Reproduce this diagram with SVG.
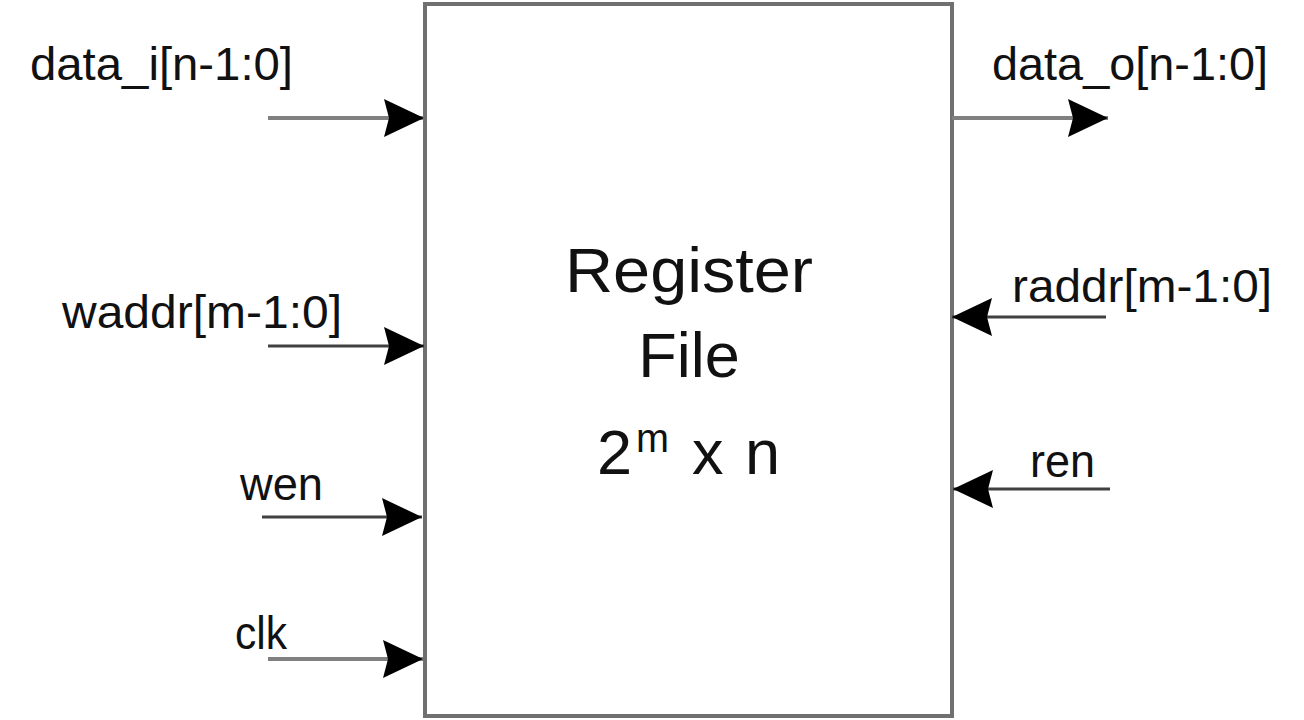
<svg xmlns="http://www.w3.org/2000/svg" width="1304" height="720" viewBox="0 0 1304 720">
  <style>
    .lbl { font-family: "Liberation Sans", Arial, sans-serif; font-size: 46px; fill: #111; }
    .ctr { font-family: "Liberation Sans", Arial, sans-serif; font-size: 63px; fill: #111; }
    .box { fill: #ffffff; stroke: #707070; stroke-width: 4; }
    .wg { stroke: #808080; stroke-width: 4; fill: none; }
    .wd { stroke: #404040; stroke-width: 3; fill: none; }
  </style>
  <defs>
    <marker id="ah" viewBox="0 0 40 38" refX="40" refY="19" markerWidth="40" markerHeight="38" markerUnits="userSpaceOnUse" orient="auto">
      <path d="M0,0 L40,19 L0,38 L5,19 Z" fill="#000"/>
    </marker>
  </defs>
  <rect width="1304" height="720" fill="#ffffff"/>

  <g id="regfile">
    <rect class="box" x="425" y="4" width="527" height="712"/>
    <text class="ctr" x="565" y="292" textLength="248" lengthAdjust="spacingAndGlyphs">Register</text>
    <text class="ctr" x="689" y="377" text-anchor="middle">File</text>
    <text class="ctr" y="474"><tspan x="597">2</tspan><tspan x="636" y="452" font-size="40" textLength="33" lengthAdjust="spacingAndGlyphs">m</tspan><tspan x="692" y="474">x</tspan><tspan x="745" y="474">n</tspan></text>
  </g>

  <g id="connectors">
    <line id="c-data-i" class="wg" x1="268" y1="118" x2="424" y2="118" marker-end="url(#ah)"/>
    <line id="c-waddr" class="wd" x1="268" y1="346" x2="424" y2="346" marker-end="url(#ah)"/>
    <line id="c-wen" class="wd" x1="262" y1="517" x2="422" y2="517" marker-end="url(#ah)"/>
    <line id="c-clk" class="wg" x1="268" y1="659" x2="423" y2="659" marker-end="url(#ah)"/>
    <line id="c-data-o" class="wg" x1="952" y1="118" x2="1108" y2="118" marker-end="url(#ah)"/>
    <line id="c-raddr" class="wd" x1="1106" y1="317" x2="952" y2="317" marker-end="url(#ah)"/>
    <line id="c-ren" class="wd" x1="1110" y1="489" x2="953" y2="489" marker-end="url(#ah)"/>
  </g>

  <g id="port-data-i"><text class="lbl" x="30" y="80" textLength="263" lengthAdjust="spacingAndGlyphs">data_i[n-1:0]</text></g>
  <g id="port-waddr"><text class="lbl" x="62" y="328" textLength="280" lengthAdjust="spacingAndGlyphs">waddr[m-1:0]</text></g>
  <g id="port-wen"><text class="lbl" x="240" y="500" textLength="83" lengthAdjust="spacingAndGlyphs">wen</text></g>
  <g id="port-clk"><text class="lbl" x="235" y="649" textLength="52" lengthAdjust="spacingAndGlyphs">clk</text></g>
  <g id="port-data-o"><text class="lbl" x="992" y="80" textLength="276" lengthAdjust="spacingAndGlyphs">data_o[n-1:0]</text></g>
  <g id="port-raddr"><text class="lbl" x="1012" y="302" textLength="260" lengthAdjust="spacingAndGlyphs">raddr[m-1:0]</text></g>
  <g id="port-ren"><text class="lbl" x="1030" y="477" textLength="65" lengthAdjust="spacingAndGlyphs">ren</text></g>
</svg>
